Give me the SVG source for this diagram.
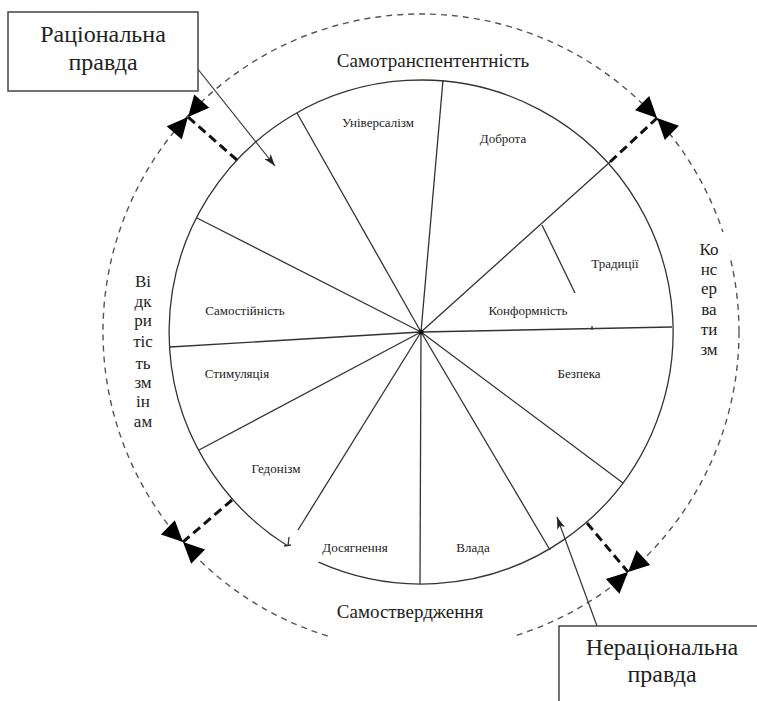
<svg xmlns="http://www.w3.org/2000/svg" width="757" height="701" viewBox="0 0 757 701">
<style>
text{font-family:"Liberation Serif","Times New Roman",serif;fill:#222}
.sec{font-size:13px;text-anchor:middle}
.big{font-size:19px;text-anchor:middle}
.vert{font-size:17px;text-anchor:middle}
.box{font-size:24px;text-anchor:middle}
.spoke{stroke:#333;stroke-width:1.3;fill:none}
.outer{stroke:#555;stroke-width:1.4;fill:none;stroke-dasharray:6 5}
.thick{stroke:#111;stroke-width:3;stroke-dasharray:9 5;fill:none}
.ptr{stroke:#333;stroke-width:1.2;fill:none;marker-end:url(#ah)}
.frame{fill:#fff;stroke:#444;stroke-width:1.5}
</style>
<defs>
<marker id="ah" viewBox="0 0 12 8" refX="12" refY="4" markerWidth="12" markerHeight="8" markerUnits="userSpaceOnUse" orient="auto">
<path d="M0,0 L12,4 L0,8 L3,4 Z" fill="#222"/>
</marker>
<path id="bowtie" d="M0,0 L21,-10 L21,10 Z M0,0 L-21,-10 L-21,10 Z" fill="#000"/>
</defs>
<rect width="757" height="701" fill="#fff"/>

<g id="outer-ring">
<circle class="outer" cx="421" cy="332" r="318"/>
<rect x="332" y="598" width="180" height="58" fill="#fff"/>
<rect x="688" y="232" width="42" height="30" fill="#fff"/>
</g>

<g id="wheel">
<path class="spoke" d="M287.5,545.7 A252,252 0 1 1 318.5,562.2"/>
<line class="spoke" x1="289" y1="537" x2="288" y2="546"/>
<line class="spoke" x1="284" y1="546" x2="291" y2="545"/>
<g id="spokes">
<line class="spoke" x1="421" y1="332" x2="443" y2="80"/>
<line class="spoke" x1="421" y1="332" x2="297" y2="113"/>
<line class="spoke" x1="421" y1="332" x2="197" y2="218"/>
<line class="spoke" x1="421" y1="332" x2="170" y2="347"/>
<line class="spoke" x1="421" y1="332" x2="199" y2="450"/>
<line class="spoke" x1="421" y1="332" x2="298" y2="530"/>
<line class="spoke" x1="421" y1="332" x2="420" y2="584"/>
<line class="spoke" x1="421" y1="332" x2="550" y2="550"/>
<line class="spoke" x1="421" y1="332" x2="623" y2="483"/>
<line class="spoke" x1="421" y1="332" x2="672" y2="327"/>
<line class="spoke" x1="421" y1="332" x2="610" y2="162"/>
<line class="spoke" x1="542" y1="225" x2="575" y2="293"/>
<line class="spoke" x1="592" y1="326" x2="592" y2="330"/>
</g>
<circle cx="421" cy="332" r="2.5" fill="#111"/>
</g>

<g id="sector-labels">
<text class="sec" x="378" y="127">Універсалізм</text>
<text class="sec" x="503" y="143">Доброта</text>
<text class="sec" x="615" y="268">Традиції</text>
<text class="sec" x="528" y="315">Конформність</text>
<text class="sec" x="579" y="378">Безпека</text>
<text class="sec" x="245" y="315">Самостійність</text>
<text class="sec" x="237" y="378">Стимуляція</text>
<text class="sec" x="276" y="473">Гедонізм</text>
<text class="sec" x="355" y="552">Досягнення</text>
<text class="sec" x="473" y="552">Влада</text>
</g>

<g id="axis-labels">
<text class="big" x="433" y="67">Самотранспентентність</text>
<text class="big" x="410" y="618">Самоствердження</text>
<g id="label-left">
<text class="vert" x="143" y="287">Ві</text>
<text class="vert" x="143" y="307">дк</text>
<text class="vert" x="143" y="326">ри</text>
<text class="vert" x="143" y="347">тіс</text>
<text class="vert" x="143" y="369">ть</text>
<text class="vert" x="143" y="388">зм</text>
<text class="vert" x="143" y="407">ін</text>
<text class="vert" x="143" y="427">ам</text>
</g>
<g id="label-right">
<text class="vert" x="709" y="255">Ко</text>
<text class="vert" x="709" y="275">нс</text>
<text class="vert" x="709" y="294">ер</text>
<text class="vert" x="709" y="315">ва</text>
<text class="vert" x="709" y="335">ти</text>
<text class="vert" x="709" y="355">зм</text>
</g>
</g>

<g id="connectors">
<line class="thick" x1="237" y1="160" x2="188" y2="117"/>
<line class="thick" x1="610" y1="162" x2="657" y2="118"/>
<line class="thick" x1="232" y1="500" x2="183" y2="542"/>
<line class="thick" x1="587" y1="523" x2="628" y2="572"/>
<line class="ptr" x1="197" y1="68" x2="275" y2="166"/>
<line class="ptr" x1="597" y1="626" x2="557" y2="517"/>
</g>

<g id="bowties">
<use href="#bowtie" transform="translate(188,117) rotate(-49)"/>
<use href="#bowtie" transform="translate(657,118) rotate(45)"/>
<use href="#bowtie" transform="translate(183,542) rotate(44)"/>
<use href="#bowtie" transform="translate(628,572) rotate(-43)"/>
</g>

<g id="box-rational">
<rect class="frame" x="8" y="12" width="190" height="79"/>
<text class="box" x="103" y="42">Раціональна</text>
<text class="box" x="103" y="70">правда</text>
</g>

<g id="box-irrational">
<rect class="frame" x="559" y="626" width="230" height="100"/>
<text class="box" x="662" y="655">Нераціональна</text>
<text class="box" x="662" y="682">правда</text>
</g>
</svg>
